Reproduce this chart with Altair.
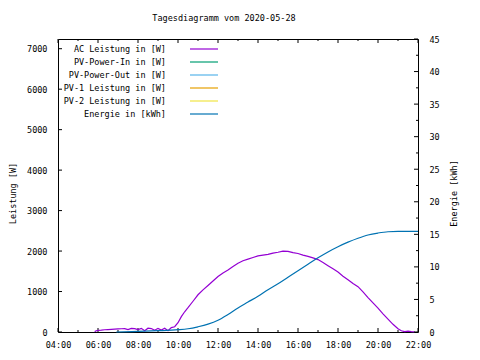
import altair as alt
import pandas as pd

# ---- data ----
ac_times = ["05:50","05:55","06:00","06:10","06:20","06:30","06:40","06:50","07:00","07:10",
            "07:20","07:30","07:40","07:50","08:00","08:10","08:20","08:30","08:40","08:50",
            "09:00","09:10","09:20","09:30","09:40","09:50","10:00","10:10","10:20","10:30",
            "10:45","11:00","11:15","11:30","11:45","12:00","12:15","12:30","12:45","13:00",
            "13:15","13:30","13:45","14:00","14:15","14:30","14:45","15:00","15:15","15:30",
            "15:45","16:00","16:15","16:30","16:45","17:00","17:15","17:30","17:45","18:00",
            "18:15","18:30","18:45","19:00","19:15","19:30","19:45","20:00","20:15","20:30",
            "20:45","21:00","21:10","21:20","21:30","21:40","21:50"]
ac_watts = [10, 30, 40, 45, 55, 60, 65, 70, 75, 80,
            85, 60, 90, 85, 60, 90, 30, 95, 85, 40,
            90, 50, 95, 30, 110, 130, 230, 380, 500, 600,
            760, 920, 1040, 1150, 1260, 1370, 1460, 1530, 1620, 1700,
            1760, 1800, 1840, 1880, 1900, 1920, 1950, 1970, 2000, 1990,
            1960, 1940, 1900, 1870, 1830, 1790, 1720, 1640, 1560, 1480,
            1380, 1290, 1200, 1120, 990, 850, 720, 590, 450, 320,
            190, 80, 30, 10, 20, 10, 5]

en_times = ["06:55","08:00","09:00","10:00","10:30","11:00","11:30","12:00","12:30","13:00",
            "13:30","14:00","14:30","15:00","15:30","16:00","16:30","17:00","17:30","18:00",
            "18:30","19:00","19:30","20:00","20:30","21:00","21:30","22:00"]
en_kwh = [0.0, 0.1, 0.2, 0.35, 0.5, 0.8, 1.2, 1.8, 2.7, 3.7,
          4.6, 5.5, 6.5, 7.4, 8.4, 9.4, 10.4, 11.4, 12.3, 13.1,
          13.8, 14.4, 14.9, 15.2, 15.4, 15.45, 15.45, 15.45]

legend_names = ["AC Leistung in [W]", "PV-Power-In in [W]", "PV-Power-Out in [W]",
                "PV-1 Leistung in [W]", "PV-2 Leistung in [W]", "Energie in [kWh]"]
legend_colors = ["#9400d3", "#009e73", "#56b4e9", "#e69f00", "#f0e442", "#0072b2"]

x_major = [4, 6, 8, 10, 12, 14, 16, 18, 20, 22]
x_minor = [5, 7, 9, 11, 13, 15, 17, 19, 21]
y_left_ticks = [0, 1000, 2000, 3000, 4000, 5000, 6000, 7000]
y_right_major = [0, 5, 10, 15, 20, 25, 30, 35, 40, 45]
y_right_minor = [2.5, 7.5, 12.5, 17.5, 22.5, 27.5, 32.5, 37.5, 42.5]


def to_h(t):
    hh, mm = t.split(":")
    return int(hh) + int(mm) / 60.0


ac = pd.DataFrame({"h": [to_h(t) for t in ac_times], "v": ac_watts})
en = pd.DataFrame({"h": [to_h(t) for t in en_times], "v": en_kwh})
leg = pd.DataFrame({"name": legend_names, "color": legend_colors})
xmaj = pd.DataFrame({"h": x_major})
xmin = pd.DataFrame({"h": x_minor})
ylt = pd.DataFrame({"v": y_left_ticks})
yrmaj = pd.DataFrame({"v": y_right_major})
yrmin = pd.DataFrame({"v": y_right_minor})

W, H = 360, 293
FONT = "DejaVu Sans Mono"
FS = 8.5

xscale = alt.Scale(domain=[4, 22], nice=False, zero=False)
xaxis = alt.Axis(values=x_major, labelExpr="(datum.value < 10 ? '0' : '') + datum.value + ':00'",
                 domain=False, ticks=False, tickSize=0, grid=False, labelPadding=8, title=None,
                 labelFont=FONT, labelFontSize=FS, labelColor="black", labelFlush=False)
X = alt.X("h:Q", scale=xscale, axis=xaxis)

lscale = alt.Scale(domain=[0, 7240], nice=False)
laxis = alt.Axis(orient="left", values=y_left_ticks, domain=False, ticks=False, tickSize=0,
                 grid=False, labelPadding=11, title="Leistung [W]", titleFont=FONT,
                 titleFontSize=FS, titleFontWeight="normal", titleAngle=270, titleX=-46,
                 titleY=154, titleAlign="center", titleBaseline="middle",
                 labelFont=FONT, labelFontSize=FS, labelColor="black", titleColor="black",
                 format="d")
YL = alt.Y("v:Q", scale=lscale, axis=laxis)

rscale = alt.Scale(domain=[0, 45], nice=False)
raxis = alt.Axis(orient="right", values=y_right_major, domain=False, ticks=False, tickSize=0,
                 grid=False, labelPadding=11, title="Energie [kWh]", titleFont=FONT,
                 titleFontSize=FS, titleFontWeight="normal", titleAngle=270, titleX=35,
                 titleY=154, titleAlign="center", titleBaseline="middle",
                 labelFont=FONT, labelFontSize=FS, labelColor="black", titleColor="black",
                 format="d")
YR = alt.Y("v:Q", scale=rscale, axis=raxis)

ac_line = alt.Chart(ac).mark_line(color="#9400d3", strokeWidth=1.2).encode(x=X, y=YL)
lt = alt.Chart(ylt).mark_rule(color="black", strokeWidth=1).encode(
    y=YL, x=alt.value(0), x2=alt.value(4))
xb_maj = alt.Chart(xmaj).mark_rule(color="black").encode(x=X, y=alt.value(H), y2=alt.value(H - 4))
xb_min = alt.Chart(xmin).mark_rule(color="black").encode(x=X, y=alt.value(H), y2=alt.value(H - 2))
xt_maj = alt.Chart(xmaj).mark_rule(color="black").encode(x=X, y=alt.value(0), y2=alt.value(4))
xt_min = alt.Chart(xmin).mark_rule(color="black").encode(x=X, y=alt.value(0), y2=alt.value(2))
left = alt.layer(xb_maj, xb_min, xt_maj, xt_min, lt, ac_line)

en_line = alt.Chart(en).mark_line(color="#0072b2", strokeWidth=1.2, interpolate="monotone").encode(x=X, y=YR)
rt_maj = alt.Chart(yrmaj).mark_rule(color="black").encode(
    y=YR, x=alt.value(W), x2=alt.value(W - 4))
rt_min = alt.Chart(yrmin).mark_rule(color="black").encode(
    y=YR, x=alt.value(W), x2=alt.value(W - 2))
right = alt.layer(rt_maj, rt_min, en_line)

lscale_leg = alt.Scale(type="point", domain=legend_names, range=[10, 75], padding=0)
leg_text = alt.Chart(leg).mark_text(align="right", baseline="middle", font=FONT, fontSize=FS,
                                    color="black").encode(
    y=alt.Y("name:N", scale=lscale_leg, axis=None), x=alt.value(108), text="name:N")
leg_rule = alt.Chart(leg).mark_rule(strokeWidth=1.2).encode(
    y=alt.Y("name:N", scale=lscale_leg, axis=None), x=alt.value(132), x2=alt.value(160),
    color=alt.Color("color:N", scale=None))
legend = alt.layer(leg_text, leg_rule)

chart = alt.layer(left, right, legend).resolve_scale(y="independent").properties(
    width=W, height=H,
    autosize=alt.AutoSizeParams(type="none"),
    padding={"left": 50, "top": 31, "right": 54, "bottom": 20},
    title=alt.TitleParams("Tagesdiagramm vom 2020-05-28", font=FONT, fontSize=FS,
                          fontWeight="normal", color="black", anchor="middle",
                          frame="group", dx=-14, offset=13),
    background="white",
).configure_view(stroke="black", strokeWidth=1)

chart.save("out.html", embed_options={"renderer": "svg", "actions": False})
